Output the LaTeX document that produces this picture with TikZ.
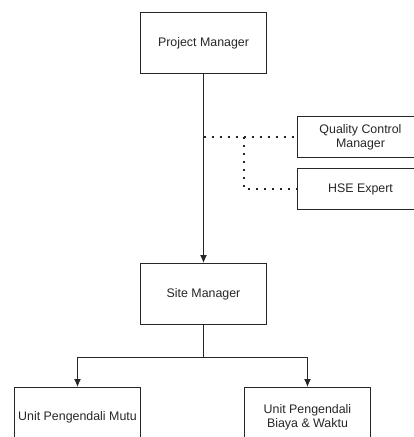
\documentclass[tikz,border=0pt]{standalone}
\usepackage{fontspec}
\setmainfont{Liberation Sans}
\usetikzlibrary{arrows.meta}
\begin{document}
\begin{tikzpicture}[
  x=1pt, y=-1pt,
  font=\fontsize{12.4}{14}\selectfont,
  box/.style={draw=black!85, line width=1pt, align=center, text=black!85, minimum width=126pt, minimum height=61pt, inner sep=2pt},
  smallbox/.style={box, minimum height=41pt},
  arrow/.style={-{Latex[length=8pt,width=7pt]}, draw=black!85, line width=1pt},
  link/.style={draw=black!85, line width=1pt},
  dotline/.style={draw=black!85, line width=2pt, dash pattern=on 2pt off 6pt}
]
\clip (0,0) rectangle (414,437);
\node[box] (pm) at (203.5,43) {Project Manager};
\node[box] (sm) at (203.5,294) {Site Manager};
\node[smallbox] (qcm) at (360.5,137) {Quality Control\\Manager};
\node[smallbox] (hse) at (360.5,189) {HSE Expert};
\node[box, minimum height=60pt] (mutu) at (77.5,417.5) {Unit Pengendali Mutu};
\node[box, minimum height=60pt] (biaya) at (307.5,417.5) {Unit Pengendali\\Biaya \& Waktu};
\coordinate (tap) at (pm.south |- qcm.west);
\coordinate (turn) at (244,137);
\coordinate (split) at (203.5,357.5);
\draw[arrow] (pm) -- (sm);
\draw[dotline] (tap) -- (qcm.west);
\draw[dotline] (turn) |- (hse.west);
\draw[link] (sm.south) -- (split);
\draw[arrow] (split) -| (mutu.north);
\draw[arrow] (split) -| (biaya.north);
\end{tikzpicture}
\end{document}
